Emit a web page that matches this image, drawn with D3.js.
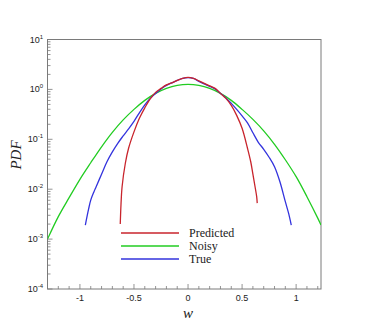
<!DOCTYPE html>
<html><head><meta charset="utf-8">
<script src="https://cdn.jsdelivr.net/npm/d3@7"></script>
<style>body{margin:0;background:#fff}</style>
</head><body>
<svg id="c" width="366" height="325"></svg>
<script>
// ---- data ----
const seriesNames = ["Predicted", "Noisy", "True"];
const seriesColors = ["#c8242c", "#22cc22", "#3333dd"];

const noisyX = [-1.3,-1.2,-1.1,-1.0,-0.9,-0.8,-0.7,-0.6,-0.5,-0.4,-0.3,-0.2,-0.1,0,0.1,0.2,0.3,0.4,0.5,0.6,0.7,0.8,0.9,1.0,1.1,1.2,1.23];
const noisyY = [0.0010,0.00282,0.00676,0.0158,0.0339,0.0708,0.138,0.245,0.398,0.603,0.832,1.047,1.202,1.259,1.202,1.047,0.832,0.603,0.398,0.251,0.148,0.0794,0.0389,0.0178,0.00708,0.00263,0.00191];

const trueX = [-0.95,-0.92,-0.90,-0.87,-0.85,-0.80,-0.75,-0.70,-0.65,-0.60,-0.55,-0.50,-0.45,-0.40,-0.35,-0.30,-0.25,-0.20,-0.15,-0.10,-0.05,0,0.05,0.10,0.15,0.20,0.25,0.30,0.35,0.40,0.45,0.50,0.55,0.60,0.65,0.70,0.75,0.80,0.85,0.90,0.93,0.955];
const trueY = [0.00191,0.00398,0.00603,0.00891,0.0112,0.0200,0.0355,0.0560,0.0832,0.117,0.162,0.229,0.340,0.490,0.661,0.832,1.023,1.202,1.349,1.514,1.660,1.718,1.660,1.445,1.288,1.148,1.023,0.832,0.676,0.525,0.398,0.295,0.214,0.135,0.0871,0.0631,0.0437,0.0282,0.0141,0.00562,0.00331,0.00191];

const predX = [-0.627,-0.62,-0.61,-0.58,-0.55,-0.50,-0.45,-0.40,-0.35,-0.30,-0.25,-0.20,-0.15,-0.10,-0.05,0,0.05,0.10,0.15,0.20,0.25,0.30,0.35,0.40,0.45,0.50,0.55,0.58,0.60,0.62,0.635,0.64];
const predY = [0.00200,0.00501,0.0112,0.0331,0.0661,0.141,0.263,0.427,0.646,0.871,1.047,1.230,1.349,1.514,1.660,1.738,1.660,1.479,1.318,1.175,1.047,0.832,0.661,0.479,0.302,0.166,0.0661,0.0355,0.0200,0.0112,0.00708,0.00525];

const xTickLabels = [-1, -0.5, 0, 0.5, 1];
const yDecades = [-4, -3, -2, -1, 0, 1];

// ---- layout ----
const L = 47.5, R = 321, T = 39.5, B = 289;
const svg = d3.select("#c");
const x = d3.scaleLinear().domain([-1.3, 1.23]).range([L, R]);
const y = d3.scaleLog().domain([1e-4, 10]).range([B, T]);
const grey = "#7a7a7a";

// x ticks (inward)
const xMinor = d3.range(-13, 13).map(d => d / 10).filter(v => v >= -1.3 && v <= 1.23);
svg.append("g").selectAll("line").data(xMinor).join("line")
  .attr("x1", d => x(d)).attr("x2", d => x(d))
  .attr("y1", B).attr("y2", d => B - (Math.abs(d * 2 - Math.round(d * 2)) < 1e-6 ? 5 : 3))
  .attr("stroke", grey).attr("stroke-width", 0.8);
svg.append("g").selectAll("text").data(xTickLabels).join("text")
  .attr("x", d => x(d)).attr("y", 301).attr("text-anchor", "middle")
  .attr("font-family", "Liberation Sans, Arial, sans-serif").attr("font-size", 9).attr("fill", "#222")
  .text(d => d);

// y ticks (inward)
const yTicks = [];
for (let e = -4; e <= 0; e++) for (let m = 1; m <= 9; m++) yTicks.push({v: m * Math.pow(10, e), major: m === 1});
yTicks.push({v: 10, major: true});
svg.append("g").selectAll("line").data(yTicks).join("line")
  .attr("x1", L).attr("x2", d => L + (d.major ? 5 : 3))
  .attr("y1", d => y(d.v)).attr("y2", d => y(d.v))
  .attr("stroke", grey).attr("stroke-width", 0.8);
const yl = svg.append("g").selectAll("text").data(yDecades).join("text")
  .attr("x", 43).attr("y", d => y(Math.pow(10, d)) + 3)
  .attr("text-anchor", "end")
  .attr("font-family", "Liberation Sans, Arial, sans-serif").attr("font-size", 9).attr("fill", "#222");
yl.append("tspan").text("10");
yl.append("tspan").attr("dy", -4).attr("font-size", 6).text(d => d);

// frame
svg.append("rect").attr("x", L).attr("y", T).attr("width", R - L).attr("height", B - T)
  .attr("fill", "none").attr("stroke", grey).attr("stroke-width", 1);

// curves
const line = d3.line().x(d => x(d[0])).y(d => y(d[1])).curve(d3.curveCatmullRom);
const data = [d3.zip(predX, predY), d3.zip(noisyX, noisyY), d3.zip(trueX, trueY)];
const g = svg.append("g");
g.append("clipPath").attr("id", "clip").append("rect").attr("x", L).attr("y", T).attr("width", R - L).attr("height", B - T);
[1, 2, 0].forEach(i => {
  g.append("path").attr("d", line(data[i])).attr("fill", "none")
    .attr("stroke", seriesColors[i]).attr("stroke-width", 1.3).attr("clip-path", "url(#clip)");
});

// legend
seriesNames.forEach((n, i) => {
  const yy = 233 + i * 13;
  svg.append("line").attr("x1", 121).attr("x2", 179).attr("y1", yy).attr("y2", yy)
    .attr("stroke", seriesColors[i]).attr("stroke-width", 1.3);
  svg.append("text").attr("x", 189).attr("y", yy + 4)
    .attr("font-family", "Liberation Serif, Times New Roman, serif").attr("font-size", 12).attr("fill", "#222")
    .text(n);
});

// axis titles
svg.append("text").attr("x", x(0)).attr("y", 318).attr("text-anchor", "middle")
  .attr("font-family", "Liberation Serif, Times New Roman, serif").attr("font-style", "italic")
  .attr("font-size", 15).attr("fill", "#222").text("w");
svg.append("text").attr("transform", "translate(21,155) rotate(-90)").attr("text-anchor", "middle")
  .attr("font-family", "Liberation Serif, Times New Roman, serif").attr("font-style", "italic")
  .attr("font-size", 15).attr("fill", "#222").text("PDF");
</script>
</body></html>
